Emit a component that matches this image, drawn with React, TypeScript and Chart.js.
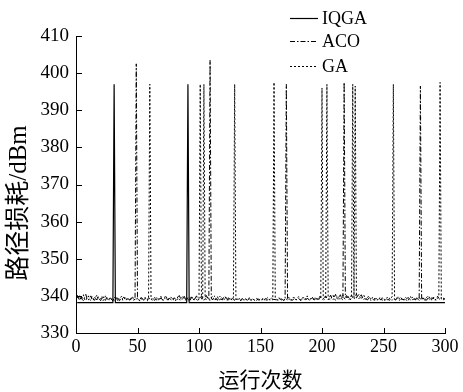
import React, { useEffect, useRef } from 'react';
import { Chart, registerables } from 'chart.js';

Chart.register(...registerables);

// Runs 1..300
const gaValues = [
  339.8, 339.2, 340.1, 338.9, 339.5, 340.3, 339.0, 338.7, 339.6, 340.0, 339.1, 338.8, 339.9, 339.3, 338.6, 339.7, 340.2, 339.0, 338.9, 339.4,
  339.8, 338.7, 339.2, 340.0, 339.5, 338.8, 339.1, 339.6, 338.9, 339.3, 338.7, 339.0, 339.8, 339.2, 338.6, 339.4, 339.9, 338.8, 339.1, 339.5,
  338.9, 339.6, 339.0, 338.7, 339.3, 339.8, 338.8, 339.2, 338.9, 339.5, 339.1, 338.6, 339.0, 339.4, 338.8, 339.7, 339.0, 338.7, 339.2, 397.0,
  339.3, 338.8, 339.1, 339.6, 338.9, 339.0, 338.7, 339.4, 339.9, 339.2, 338.8, 339.5, 340.1, 339.3, 338.9, 339.6, 339.0, 338.8, 339.4, 339.1,
  338.7, 339.3, 339.8, 339.0, 338.9, 339.5, 340.0, 339.2, 338.8, 339.4, 339.1, 338.7, 339.6, 339.9, 339.2, 338.9, 339.5, 339.0, 338.8, 339.3,
  397.0, 339.2, 339.0, 397.0, 339.4, 338.9, 339.7, 339.1, 338.8, 339.5, 339.9, 339.2, 338.7, 339.4, 339.8, 339.0, 338.9, 339.6, 339.3, 338.8,
  339.2, 339.7, 339.0, 338.8, 339.5, 339.1, 338.9, 339.6, 397.0, 339.3, 338.8, 339.0, 339.4, 338.7, 339.2, 339.0, 338.9, 339.3, 338.8, 339.1,
  339.5, 338.9, 339.0, 339.3, 338.8, 339.1, 339.4, 338.7, 339.0, 339.2, 338.9, 339.5, 339.0, 338.8, 339.3, 339.6, 339.0, 338.9, 339.4, 339.1,
  397.5, 339.3, 338.9, 339.0, 339.5, 338.8, 339.2, 339.0, 338.7, 339.4, 339.1, 338.9, 339.6, 339.0, 338.8, 339.3, 339.7, 339.1, 338.9, 339.4,
  339.8, 339.0, 338.8, 339.5, 339.2, 338.9, 339.6, 340.0, 339.1, 338.8, 339.4, 339.0, 338.9, 339.7, 339.3, 338.8, 339.5, 339.9, 339.2, 396.0,
  339.4, 339.0, 339.3, 397.0, 339.6, 339.1, 338.9, 339.8, 340.2, 339.3, 338.8, 339.5, 339.9, 339.2, 338.9, 339.6, 340.3, 339.4, 339.0, 339.7,
  340.1, 339.3, 338.9, 339.6, 397.0, 339.5, 396.5, 339.4, 339.9, 340.4, 339.6, 339.1, 339.8, 340.2, 339.3, 338.9, 339.5, 340.0, 339.4, 339.0,
  339.6, 339.1, 338.8, 339.4, 339.0, 338.9, 339.5, 339.2, 338.8, 339.3, 339.0, 338.9, 339.6, 339.1, 338.8, 339.4, 339.7, 397.0, 339.2, 338.9,
  339.5, 339.9, 339.1, 338.8, 339.4, 339.0, 338.9, 339.6, 339.2, 338.8, 339.3, 339.8, 339.1, 338.9, 339.5, 339.0, 338.8, 339.4, 339.7, 339.1,
  338.9, 339.5, 339.0, 338.8, 339.6, 339.9, 339.2, 338.9, 339.5, 339.1, 339.7, 339.0, 338.8, 339.4, 339.8, 397.5, 339.2, 338.9, 339.4, 339.1,
];

const acoValues = [
  340.2, 339.4, 338.8, 339.9, 339.1, 338.7, 339.6, 340.4, 339.2, 338.9, 339.5, 340.0, 339.0, 338.8, 339.7, 339.3, 338.9, 339.8, 339.1, 338.7,
  339.4, 339.9, 339.0, 338.8, 339.6, 339.2, 338.9, 339.5, 339.0, 338.7, 339.3, 339.8, 339.1, 338.8, 339.5, 339.0, 338.9, 339.4, 339.7, 339.0,
  338.8, 339.3, 339.0, 338.9, 339.5, 339.1, 338.8, 339.4, 402.5, 339.2, 338.9, 339.0, 339.6, 339.1, 338.8, 339.3, 339.0, 338.9, 339.5, 339.2,
  338.9, 339.4, 339.0, 338.8, 339.3, 339.7, 339.1, 338.9, 339.5, 339.0, 338.8, 339.2, 339.6, 339.0, 338.9, 339.4, 339.8, 339.2, 338.9, 339.5,
  339.0, 338.8, 339.6, 340.1, 339.3, 338.9, 339.4, 339.9, 339.2, 338.8, 339.5, 339.0, 338.9, 339.7, 339.3, 338.8, 339.4, 340.0, 339.1, 338.9,
  339.5, 339.9, 339.2, 338.8, 339.6, 340.1, 339.3, 339.0, 403.5, 339.4, 338.9, 339.7, 340.0, 339.2, 338.8, 339.5, 339.9, 339.1, 338.9, 339.6,
  339.9, 339.3, 338.8, 339.5, 339.1, 338.9, 339.6, 339.0, 338.8, 339.4, 339.2, 338.9, 339.0, 338.8, 339.3, 339.0, 338.9, 339.2, 338.8, 339.0,
  339.2, 338.9, 338.8, 339.1, 338.9, 339.0, 338.8, 339.2, 338.9, 339.0, 338.8, 339.1, 338.9, 339.3, 338.8, 339.0, 338.9, 339.2, 338.8, 339.0,
  339.1, 338.9, 339.3, 338.8, 339.0, 339.2, 338.9, 339.0, 338.8, 339.3, 397.0, 339.1, 338.9, 339.4, 339.0, 338.8, 339.2, 339.5, 339.0, 338.9,
  339.3, 339.0, 338.8, 339.2, 339.6, 339.1, 338.9, 339.4, 339.0, 338.8, 339.3, 339.7, 339.1, 338.9, 339.5, 339.0, 338.8, 339.4, 339.8, 339.2,
  338.9, 339.6, 340.0, 339.3, 338.9, 339.5, 340.2, 339.4, 339.0, 339.7, 340.4, 339.5, 339.1, 339.8, 340.3, 339.2, 338.9, 397.5, 339.6, 340.1,
  339.4, 339.0, 339.7, 340.2, 339.5, 339.1, 339.8, 340.5, 339.6, 339.2, 339.9, 340.3, 339.4, 339.0, 339.6, 339.2, 338.9, 339.4, 339.0, 338.8,
  339.2, 338.9, 339.4, 339.0, 338.8, 339.3, 339.1, 338.9, 339.5, 339.0, 338.8, 339.2, 339.0, 338.9, 339.4, 339.1, 338.8, 339.3, 339.0, 338.9,
  339.4, 339.1, 338.8, 339.5, 339.2, 338.9, 339.3, 339.0, 338.8, 339.6, 339.2, 338.9, 339.4, 339.7, 339.1, 338.9, 339.5, 339.2, 338.8, 396.5,
  339.3, 338.9, 339.6, 339.2, 338.8, 339.4, 339.8, 339.1, 338.9, 339.5, 339.2, 338.8, 339.4, 339.9, 339.3, 339.0, 339.6, 339.2, 338.9, 339.4,
];

const iqgaRuns = [1, 30, 31, 32, 90, 91, 92, 300];
const iqgaValues = [338.2, 338.2, 397.0, 338.2, 338.2, 397.0, 338.2, 338.2];

const xTicks = [0, 50, 100, 150, 200, 250, 300];
const yTicks = [330, 340, 350, 360, 370, 380, 390, 400, 410];
const seriesNames = ['IQGA', 'ACO', 'GA'];
const xTitle = '运行次数';
const yTitle = '路径损耗/dBm';

const SERIF = '"Liberation Serif", "Times New Roman", serif';
const CJK = '"Liberation Serif", "Noto Sans CJK SC", serif';

export default function App() {
  const ref = useRef<HTMLCanvasElement>(null);

  useEffect(() => {
    document.body.style.margin = '0';
    if (!ref.current) return;

    const styles: Record<string, { dash: number[]; width: number }> = {
      IQGA: { dash: [], width: 1.2 },
      ACO: { dash: [5, 2, 1.5, 2], width: 1 },
      GA: { dash: [2, 2], width: 1 },
    };

    const extras = {
      id: 'extras',
      afterDraw(chart: any) {
        const { ctx, chartArea, scales } = chart;
        ctx.save();
        ctx.strokeStyle = '#000';
        ctx.lineWidth = 1;
        ctx.beginPath();
        yTicks.forEach((v) => {
          const y = Math.round(scales.y.getPixelForValue(v)) + 0.5;
          ctx.moveTo(chartArea.left, y);
          ctx.lineTo(chartArea.left + 6, y);
        });
        xTicks.forEach((v) => {
          const x = Math.round(scales.x.getPixelForValue(v)) + 0.5;
          ctx.moveTo(x, chartArea.bottom);
          ctx.lineTo(x, chartArea.bottom - 5);
        });
        ctx.stroke();

        // y axis title
        ctx.save();
        ctx.translate(19, 203);
        ctx.rotate(-Math.PI / 2);
        ctx.font = `25px ${CJK}`;
        ctx.fillStyle = '#000';
        ctx.textAlign = 'center';
        ctx.textBaseline = 'middle';
        ctx.fillText(yTitle, 0, 0);
        ctx.restore();

        // legend
        const lx0 = 290;
        const lx1 = 318;
        const ly = [18, 41, 66];
        ctx.font = `18px ${SERIF}`;
        ctx.fillStyle = '#000';
        ctx.textBaseline = 'middle';
        ctx.textAlign = 'left';
        seriesNames.forEach((name, i) => {
          const st = styles[name];
          ctx.beginPath();
          ctx.setLineDash(st.dash);
          ctx.lineWidth = st.width;
          ctx.moveTo(lx0, ly[i] + 0.5);
          ctx.lineTo(lx1, ly[i] + 0.5);
          ctx.stroke();
          ctx.setLineDash([]);
          ctx.fillText(name, 322, ly[i] + 1);
        });
        ctx.restore();
      },
    };

    const chart = new Chart(ref.current, {
      type: 'line',
      data: {
        datasets: [
          {
            label: 'GA',
            data: gaValues.map((v, i) => ({ x: i + 1, y: v })),
            borderColor: '#000',
            borderWidth: styles.GA.width,
            borderDash: styles.GA.dash,
            pointRadius: 0,
            tension: 0,
          },
          {
            label: 'ACO',
            data: acoValues.map((v, i) => ({ x: i + 1, y: v })),
            borderColor: '#000',
            borderWidth: styles.ACO.width,
            borderDash: styles.ACO.dash,
            pointRadius: 0,
            tension: 0,
          },
          {
            label: 'IQGA',
            data: iqgaRuns.map((r, i) => ({ x: r, y: iqgaValues[i] })),
            borderColor: '#000',
            borderWidth: styles.IQGA.width,
            pointRadius: 0,
            tension: 0,
          },
        ],
      },
      options: {
        responsive: false,
        animation: false,
        layout: { padding: { top: 36, right: 18, left: 0, bottom: 0 } },
        plugins: { legend: { display: false }, tooltip: { enabled: false } },
        scales: {
          x: {
            type: 'linear',
            min: 0,
            max: 300,
            afterBuildTicks: (s: any) => {
              s.ticks = xTicks.map((v) => ({ value: v }));
            },
            afterFit: (s: any) => {
              s.height = 59;
            },
            ticks: {
              color: '#000',
              font: { family: SERIF, size: 18 },
              padding: 3,
              maxRotation: 0,
              autoSkip: false,
            },
            grid: { display: false, drawTicks: false },
            border: { display: true, color: '#000', width: 1 },
            title: {
              display: true,
              text: xTitle,
              color: '#000',
              font: { family: CJK, size: 21, lineHeight: 1 },
              padding: { top: 0, bottom: 0 },
            },
          },
          y: {
            type: 'linear',
            min: 330,
            max: 410,
            afterBuildTicks: (s: any) => {
              s.ticks = yTicks.map((v) => ({ value: v }));
            },
            afterFit: (s: any) => {
              s.width = 76;
            },
            ticks: {
              color: '#000',
              font: { family: SERIF, size: 19 },
              padding: 7,
              autoSkip: false,
            },
            grid: { display: false, drawTicks: false },
            border: { display: true, color: '#000', width: 1 },
            title: { display: false },
          },
        },
      },
      plugins: [extras],
    });

    return () => chart.destroy();
  }, []);

  return (
    <div style={{ position: 'absolute', left: 0, top: 0, width: 463, height: 392 }}>
      <canvas ref={ref} width={463} height={392} />
    </div>
  );
}
